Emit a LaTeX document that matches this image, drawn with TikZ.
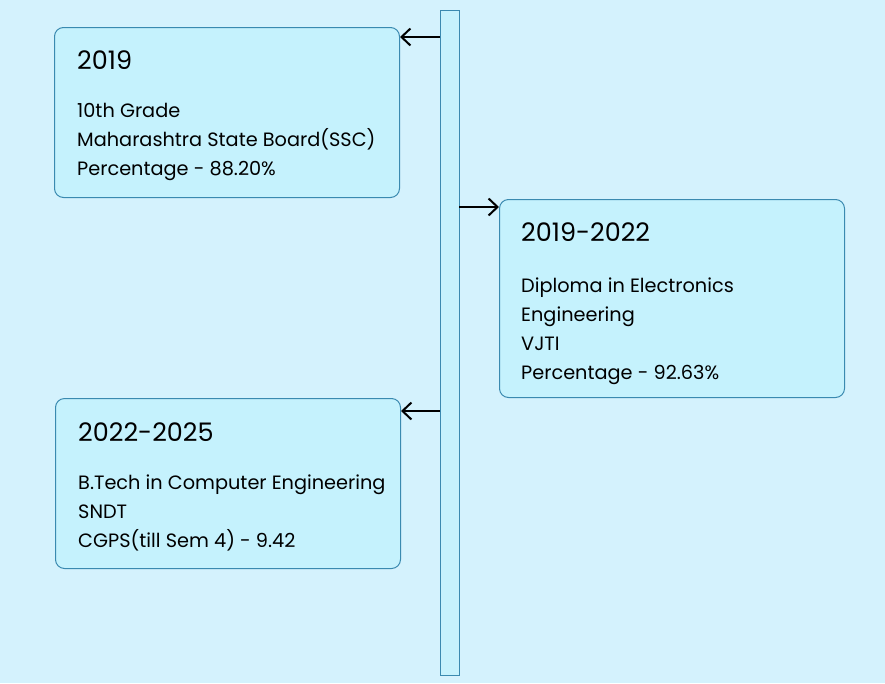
\documentclass[tikz,border=0pt]{standalone}
\usepackage{fontspec}
\setmainfont{Poppins}
\usetikzlibrary{arrows.meta}
\definecolor{bgc}{RGB}{212,242,253}
\definecolor{boxfill}{RGB}{197,242,253}
\definecolor{boxline}{RGB}{58,138,176}
\tikzset{
  x=1pt,y=-1pt,
  card/.style={draw=boxline, fill=boxfill, line width=1pt, rounded corners=9pt, anchor=north west, inner sep=0pt},
  bar/.style={draw=boxline, fill=boxfill, line width=1.2pt, anchor=north west, inner sep=0pt},
  title/.style={anchor=base west, inner sep=0pt, font=\fontsize{25.5}{30}\selectfont},
  body/.style={anchor=base west, inner sep=0pt, font=\fontsize{19.3}{23}\selectfont},
  link/.style={line width=2pt, -{Straight Barb[length=9pt,width=17pt,line width=2pt]}}
}
\begin{document}
\begin{tikzpicture}
\fill[bgc] (0,0) rectangle (885,683);
\useasboundingbox (0,0) rectangle (885,683);
\node[bar, minimum width=19pt, minimum height=665pt] (bar) at (440,10) {};
\node[card, minimum width=345pt, minimum height=170pt] (b1) at (54,27) {};
\node[card, minimum width=345pt, minimum height=198pt] (b2) at (499,199) {};
\node[card, minimum width=345pt, minimum height=170pt] (b3) at (55,398) {};
% box 1
\node[title] (t1) at (77,69) {2019};
\node[body] (l11) at (77,117) {10th Grade};
\node[body] (l12) at (77,146) {Maharashtra State Board(SSC)};
\node[body] (l13) at (77,175) {Percentage - 88.20\%};
% box 2
\node[title] (t2) at (521,241) {2019-2022};
\node[body] (l21) at (521,292) {Diploma in Electronics};
\node[body] (l22) at (521,321) {Engineering};
\node[body] (l23) at (521,350) {VJTI};
\node[body] (l24) at (521,379) {Percentage - 92.63\%};
% box 3
\node[title] (t3) at (78,441) {2022-2025};
\node[body] (l31) at (78,489) {B.Tech in Computer Engineering};
\node[body] (l32) at (78,518) {SNDT};
\node[body] (l33) at (78,547) {CGPS(till Sem 4) - 9.42};
% connectors
\coordinate (a1) at (440,37);
\coordinate (a2) at (459,207);
\coordinate (a3) at (440,411);
\draw[link] (a1) -- (b1.east |- a1);
\draw[link] (a2) -- (b2.west |- a2);
\draw[link] (a3) -- (b3.east |- a3);
\end{tikzpicture}
\end{document}
